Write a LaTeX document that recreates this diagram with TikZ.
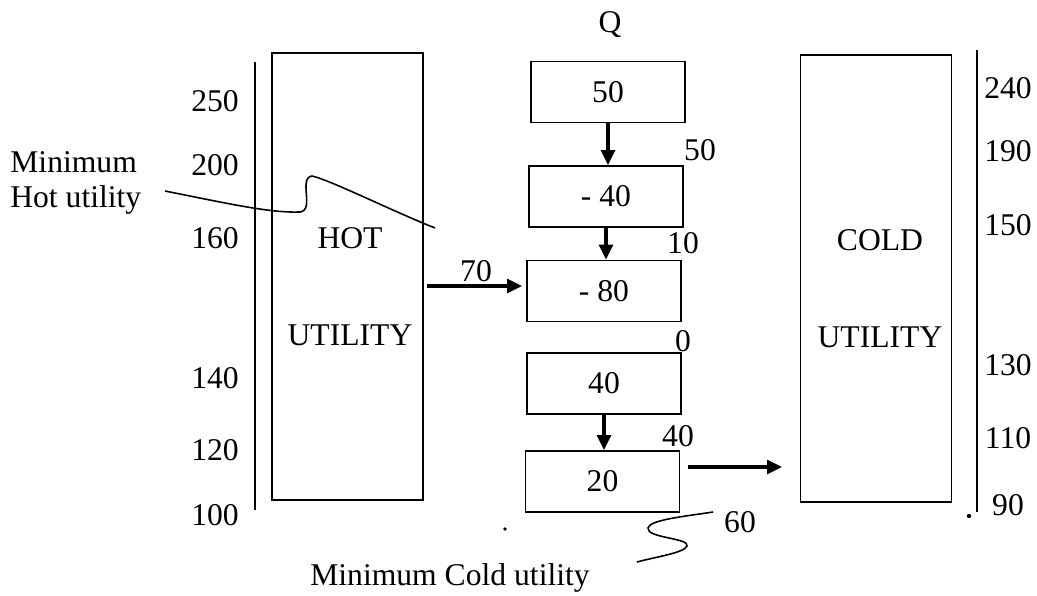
\documentclass[tikz,border=0pt]{standalone}
\usepackage{fontspec}
\setmainfont{Liberation Serif}
\usetikzlibrary{arrows.meta,calc}
\begin{document}
\begin{tikzpicture}[x=0.02cm,y=-0.02cm,
  txt/.style={font=\fontsize{18}{20}\selectfont,inner sep=0pt},
  qbox/.style={draw,line width=1.1pt,minimum width=3.08cm,minimum height=1.22cm,inner sep=0pt,font=\fontsize{18}{20}\selectfont},
  ubox/.style={draw,line width=1.1pt,minimum width=3.02cm,minimum height=8.94cm,inner sep=0pt},
  arr/.style={line width=1.8pt,-{Triangle[length=0.3cm,width=0.28cm]}},
  thin/.style={line width=0.9pt}]
\useasboundingbox (0,0) rectangle (1037,595);
% utility boxes
\node[ubox] (hot) at (347.5,276.5) {};
\node[ubox] (cold) at (876,278.5) {};
\node[txt] (hotA) at (350,238) {HOT};
\node[txt] (hotB) at (350,335) {UTILITY};
\node[txt] (coldA) at (880,240) {COLD};
\node[txt] (coldB) at (880,337) {UTILITY};
% scale lines
\coordinate (lt) at (255,62);
\coordinate (lb) at (255,510);
\coordinate (rt) at (977,50);
\coordinate (rb) at (977,512);
\draw[thin] (lt) -- (lb);
\draw[thin] (rt) -- (rb);
% left scale
\node[txt] (l250) at (215,101) {250};
\node[txt] (l200) at (215,165) {200};
\node[txt] (l160) at (215,238) {160};
\node[txt] (l140) at (215,378) {140};
\node[txt] (l120) at (215,450) {120};
\node[txt] (l100) at (215,515) {100};
% right scale
\node[txt] (r240) at (1008,88) {240};
\node[txt] (r190) at (1008,151) {190};
\node[txt] (r150) at (1008,225) {150};
\node[txt] (r130) at (1008,365) {130};
\node[txt] (r110) at (1008,438) {110};
\node[txt] (r90) at (1008,505) {90};
% cascade boxes
\node[txt] (q) at (610,25) {Q};
\node[qbox] (b1) at (608,92) {50};
\node[qbox] (b2) at (606,196.5) {- 40};
\node[qbox] (b3) at (604,291) {- 80};
\node[qbox] (b4) at (604,383.5) {40};
\node[qbox] (b5) at (602.5,481.5) {20};
\draw[arr] (b1.south) -- (b1.south |- b2.north);
\draw[arr] (b2.south) -- (b2.south |- b3.north);
\draw[arr] (b4.south) -- (b4.south |- b5.north);
% cascade numbers
\node[txt] (c50) at (700,150) {50};
\node[txt] (c10) at (683,243) {10};
\node[txt] (c0) at (683,341) {0};
\node[txt] (c40) at (678,436) {40};
\node[txt] (c60) at (740,522) {60};
% utility arrows
\coordinate (ina) at (427,286);
\coordinate (inb) at (522,286);
\draw[arr] (ina) -- (inb);
\node[txt] (c70) at (476,271) {70};
\coordinate (outa) at (688,467);
\coordinate (outb) at (782,467);
\draw[arr] (outa) -- (outb);
% minimum hot utility
\node[txt,anchor=west] (mh1) at (10,162) {Minimum};
\node[txt,anchor=west] (mh2) at (10,200) {Hot utility};
\draw[thin] (165,191) .. controls (230,204) and (270,213) .. (300,212)
  .. controls (315,210) and (298,178) .. (312,176)
  .. controls (330,180) and (390,210) .. (435,228);
% minimum cold utility
\node[txt] (mc) at (450,578) {Minimum Cold utility};
\draw[thin] (713,512) .. controls (680,517) and (650,520) .. (648,528)
  .. controls (646,538) and (690,538) .. (687,546)
  .. controls (684,553) and (655,557) .. (637,562);
% dots
\fill (505,529) circle (1.8);
\fill (969,516) circle (2.2);
\end{tikzpicture}
\end{document}
